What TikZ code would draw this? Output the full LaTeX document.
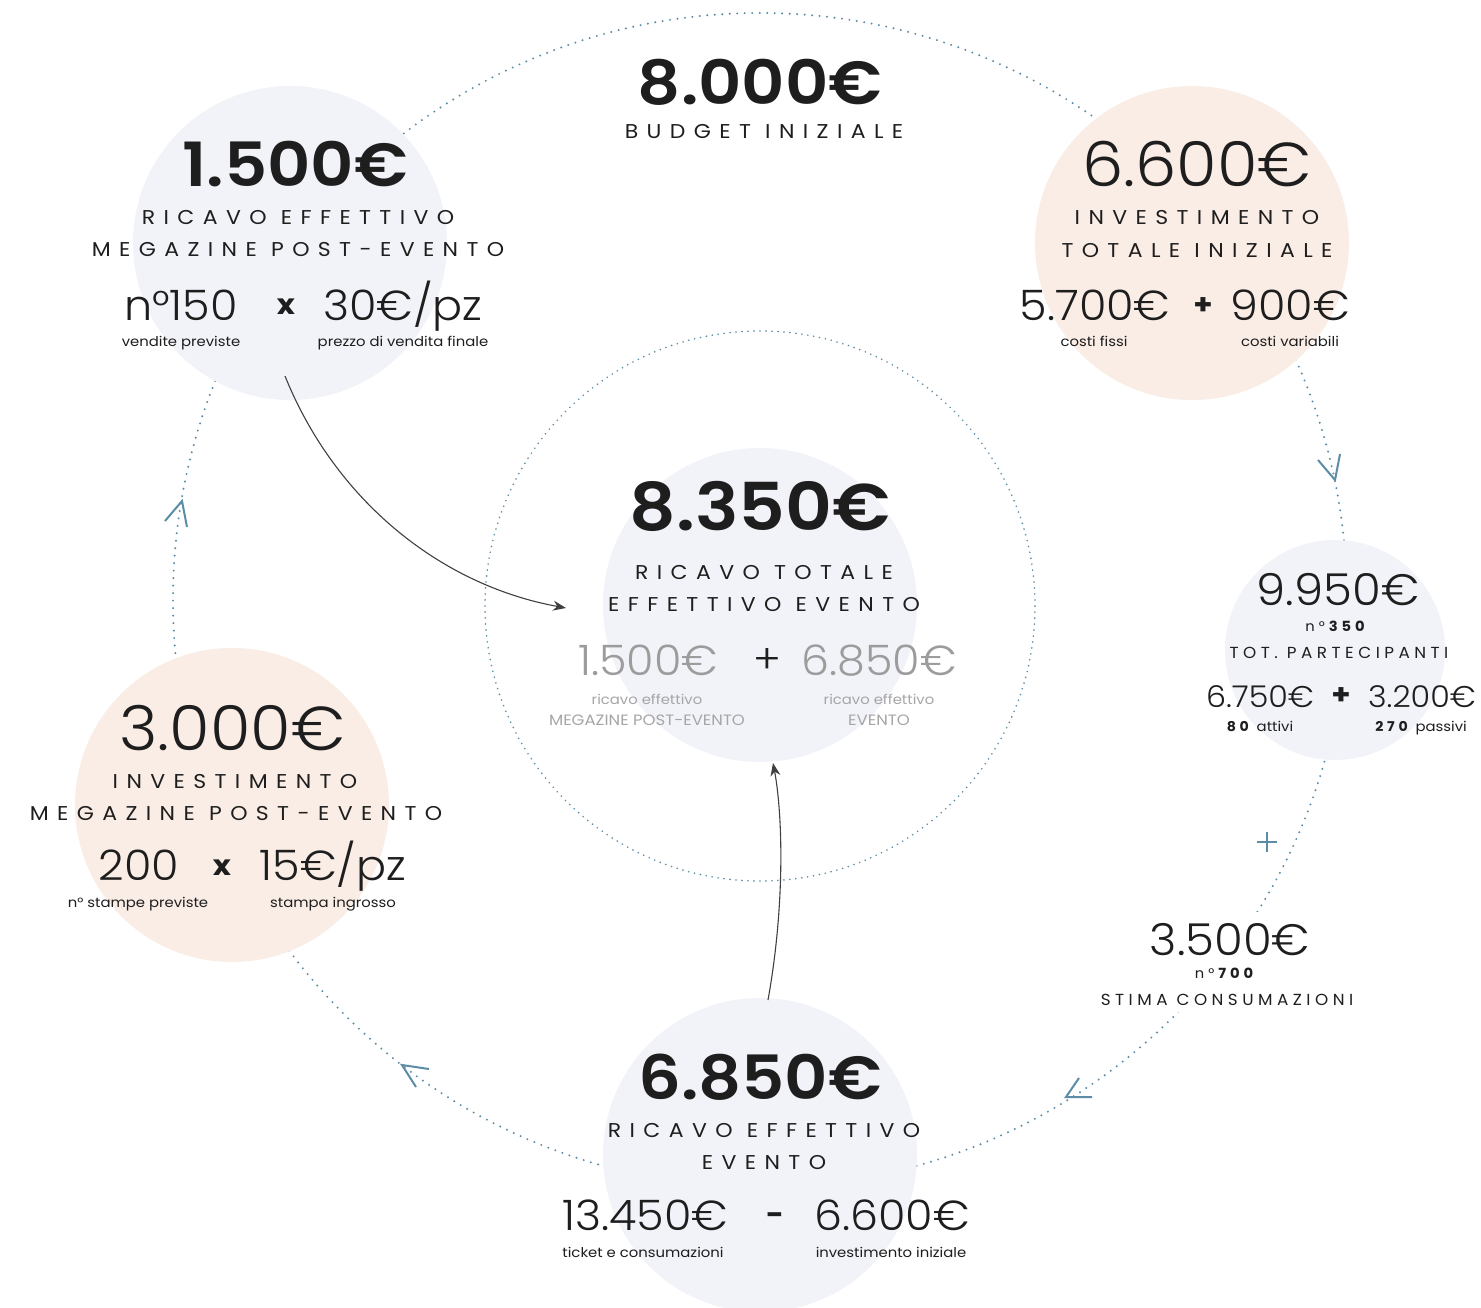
\documentclass[tikz,border=0pt]{standalone}
\usepackage{fontspec}
\setmainfont{Poppins}[FakeStretch=1.1]
\newfontfamily\sbf{Poppins SemiBold}[FakeStretch=1.1]
\newfontfamily\lt{Poppins Light}[FakeStretch=1.06]
\newfontfamily\trk{Poppins}[FakeStretch=1.1, LetterSpace=42]
\newfontfamily\trks{Poppins}[FakeStretch=1.05, LetterSpace=28]
\usetikzlibrary{arrows.meta}
\definecolor{ink}{HTML}{1E1E1E}
\definecolor{gnum}{HTML}{9C9C9C}
\definecolor{glab}{HTML}{A6A6A6}
\definecolor{ringc}{HTML}{5C8DA6}
\definecolor{lav}{HTML}{F2F3F9}
\definecolor{peach}{HTML}{FAEDE6}
\tikzset{
 t/.style={anchor=base, inner sep=0pt, text=ink},
 bignum/.style={t, font=\sbf\fontsize{61}{61}\selectfont},
 bignuml/.style={t, font=\lt\fontsize{62}{62}\selectfont},
 midnum/.style={t, font=\lt\fontsize{44}{44}\selectfont},
 fnum/.style={t, font=\lt\fontsize{42}{42}\selectfont},
 snum/.style={t, font=\lt\fontsize{30}{30}\selectfont},
 caps/.style={t, font=\trk\fontsize{20}{20}\selectfont},
 scaps/.style={t, font=\trks\fontsize{16}{16}\selectfont},
 nlab/.style={t, font=\trks\fontsize{14}{14}\selectfont},
 lab/.style={t, font=\fontsize{13.5}{13.5}\selectfont},
 op/.style={t, font=\fontsize{28}{28}\selectfont\bfseries},
 disc/.style={circle, inner sep=0pt, minimum size=#1},
 ring/.style={draw=ringc, line width=2.2pt, line cap=round, dash pattern=on 0pt off 7.5pt},
 iring/.style={draw=ringc, line width=1.8pt, line cap=round, dash pattern=on 0pt off 6pt},
 chev/.style={draw=ringc, line width=2pt},
 flow/.style={draw=ink!85, line width=1.1pt, -{Stealth[length=13pt,width=10pt]}},
}
\begin{document}
\begin{tikzpicture}[x=1pt,y=-1pt]
\useasboundingbox (0,0) rectangle (1481,1308);
\fill[white] (0,0) rectangle (1481,1308);
% rings
\coordinate (rc) at (760,600);
\draw[ring] (rc) circle[radius=587pt];
\coordinate (ic) at (760,606);
\draw[iring] (ic) circle[radius=275pt];
% discs
\node[disc=314pt, fill=lav] (c1) at (290,243) {};
\node[disc=314pt, fill=peach] (c2) at (1192,243) {};
\node[disc=314pt, fill=lav] (cm) at (760,605) {};
\node[disc=220pt, fill=lav] (c3) at (1335,650) {};
\node[disc=314pt, fill=peach] (c5) at (232,805) {};
\node[disc=314pt, fill=lav] (c4) at (760,1155) {};
% chevrons
\draw[chev] (1318,460) -- (1335,480) -- (1340,454);
\draw[chev] (165,521) -- (182,501) -- (187,527);
\draw[chev] (429,1069) -- (402,1065) -- (416,1087);
\draw[chev] (1079,1078) -- (1066,1097) -- (1092,1097);
\draw[chev] (1257,842) -- (1277,842) (1267,832) -- (1267,852);
% cover for 3.500 block
\fill[white] (1090,912) rectangle (1362,1012);
% flows
\coordinate (a1) at (285,376);
\coordinate (a2) at (566,608);
\draw[flow] (a1) .. controls (335,500) and (440,585) .. (a2);
\coordinate (b1) at (768,1000);
\coordinate (b2) at (773,763);
\draw[flow] (b1) .. controls (786,900) and (782,810) .. (b2);
% top
\node[bignum] (t0) at (760,105) {8.000€};
\node[caps] (t0l) at (764,139) {BUDGET INIZIALE};
% c1
\node[bignum] at (295,187) {1.500€};
\node[caps] at (298,225) {RICAVO EFFETTIVO};
\node[caps] at (298,257) {MEGAZINE POST-EVENTO};
\node[fnum] at (181,320) {n°150};
\node[op] at (286,314) {x};
\node[fnum] at (403,320) {30€/pz};
\node[lab] at (181,346) {vendite previste};
\node[lab] at (403,346) {prezzo di vendita finale};
% c2
\node[bignuml] at (1197,187) {6.600€};
\node[caps] at (1197,225) {INVESTIMENTO};
\node[caps] at (1197,258) {TOTALE INIZIALE};
\node[fnum] at (1095,320) {5.700€};
\node[op] at (1203,314) {+};
\node[fnum] at (1290,320) {900€};
\node[lab] at (1094,346) {costi fissi};
\node[lab] at (1290,346) {costi variabili};
% center
\node[bignum, font=\sbf\fontsize{66}{66}\selectfont] at (760,530) {8.350€};
\node[caps] at (764,579) {RICAVO TOTALE};
\node[caps] at (764,611) {EFFETTIVO EVENTO};
\node[fnum, text=gnum] at (648,675) {1.500€};
\node[t, font=\lt\fontsize{40}{40}\selectfont] at (767,673) {+};
\node[fnum, text=gnum] at (879,675) {6.850€};
\node[lab, text=glab] at (647,704) {ricavo effettivo};
\node[lab, text=glab, font=\fontsize{15}{15}\selectfont] at (647,725) {MEGAZINE POST-EVENTO};
\node[lab, text=glab] at (879,704) {ricavo effettivo};
\node[lab, text=glab, font=\fontsize{15}{15}\selectfont] at (879,725) {EVENTO};
% c3
\node[midnum] at (1338,605) {9.950€};
\node[nlab] at (1337,631) {n°\textbf{350}};
\node[scaps] at (1339,658) {TOT. PARTECIPANTI};
\node[snum] at (1260,707) {6.750€};
\node[op] at (1341,704) {+};
\node[snum] at (1422,707) {3.200€};
\node[lab] at (1260,731) {\textbf{\trks 80} attivi};
\node[lab] at (1421,731) {\textbf{\trks 270} passivi};
% 3.500 block
\node[midnum] at (1230,955) {3.500€};
\node[nlab] at (1226,978) {n°\textbf{700}};
\node[scaps] at (1227,1005) {STIMA CONSUMAZIONI};
% c5
\node[bignuml] at (232,750) {3.000€};
\node[caps] at (235,788) {INVESTIMENTO};
\node[caps] at (236,820) {MEGAZINE POST-EVENTO};
\node[fnum] at (139,880) {200};
\node[op] at (222,875) {x};
\node[fnum] at (333,880) {15€/pz};
\node[lab] at (138,907) {n° stampe previste};
\node[lab] at (333,907) {stampa ingrosso};
% c4
\node[bignum] at (760,1099) {6.850€};
\node[caps] at (764,1137) {RICAVO EFFETTIVO};
\node[caps] at (764,1169) {EVENTO};
\node[fnum] at (645,1230) {13.450€};
\node[op] at (775,1224) {-};
\node[fnum] at (892,1230) {6.600€};
\node[lab] at (643,1257) {ticket e consumazioni};
\node[lab] at (891,1257) {investimento iniziale};
\end{tikzpicture}
\end{document}
